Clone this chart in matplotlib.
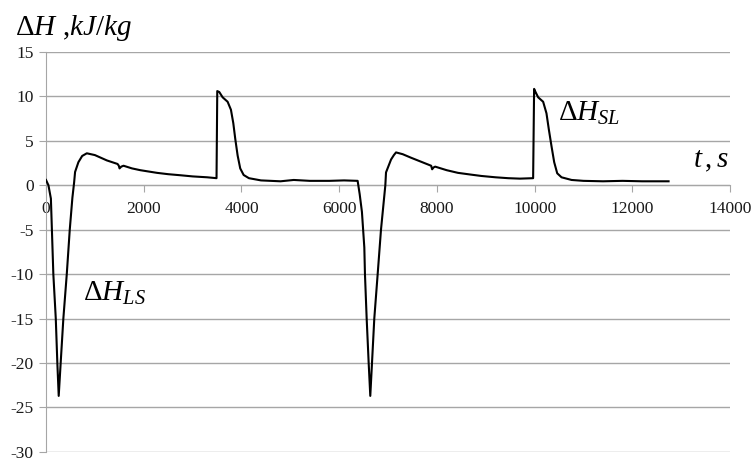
import matplotlib
matplotlib.use('Agg')
import matplotlib.pyplot as plt

plt.rcParams['font.family'] = 'serif'
plt.rcParams['font.serif'] = ['Liberation Serif', 'DejaVu Serif']
plt.rcParams['mathtext.fontset'] = 'custom'
plt.rcParams['mathtext.rm'] = 'Liberation Serif'
plt.rcParams['mathtext.it'] = 'Liberation Serif:italic'
plt.rcParams['axes.unicode_minus'] = False

# traced curve: time (s) and enthalpy change (kJ/kg)
t = [0, 50, 100, 150, 200, 232, 260, 300, 355, 425, 486, 540, 575, 595, 663, 740, 835,
     1000, 1245, 1464, 1490, 1505, 1540, 1587, 1760, 1930, 2100, 2272, 2500, 2751, 3000, 3299, 3490,
     3505, 3546, 3615, 3717, 3785, 3833, 3874, 3922, 3975, 4045, 4153, 4400, 4800, 5070, 5400,
     5800, 6100, 6378,
     6420, 6466, 6515, 6528, 6563, 6604, 6637, 6672, 6719, 6788, 6856, 6945, 6959, 7062, 7120, 7164,
     7300, 7472, 7700, 7883, 7903, 7930, 7965, 8200, 8431, 8700, 8910, 9200, 9458, 9700, 9970,
     9990, 10010, 10073, 10175, 10243, 10291, 10346, 10401, 10463, 10551, 10757, 11000, 11400,
     11800, 12200, 12742]
dh = [0.6, 0.0, -1.5, -10, -15, -20, -23.7, -20, -15, -10, -5, -1.4, 0.3, 1.5, 2.6, 3.3, 3.6,
      3.4, 2.8, 2.4, 2.2, 1.9, 2.1, 2.2, 1.9, 1.7, 1.55, 1.4, 1.25, 1.13, 1.0, 0.9, 0.8,
      10.6, 10.5, 9.9, 9.4, 8.5, 7.0, 5.2, 3.35, 1.9, 1.16, 0.8, 0.55, 0.45, 0.6, 0.5,
      0.5, 0.55, 0.5,
      -1.0, -3.0, -7, -10, -15, -20, -23.7, -20, -15, -10, -5, 0.0, 1.45, 2.9, 3.4, 3.7,
      3.5, 3.1, 2.6, 2.2, 1.8, 2.0, 2.1, 1.7, 1.4, 1.2, 1.05, 0.9, 0.8, 0.75, 0.8,
      10.85, 10.6, 9.9, 9.4, 8.1, 6.3, 4.4, 2.6, 1.35, 0.9, 0.6, 0.5, 0.45,
      0.5, 0.45, 0.45]

xticks = [0, 2000, 4000, 6000, 8000, 10000, 12000, 14000]
yticks = [15, 10, 5, 0, -5, -10, -15, -20, -25, -30]

fig = plt.figure(figsize=(7.53, 4.63), dpi=100)
ax = fig.add_axes([0.0611, 0.024, 0.9084, 0.8637])

ax.plot(t, dh, color='black', linewidth=1.5, zorder=3)

ax.set_xlim(0, 14000)
ax.set_ylim(-30, 15)
ax.set_xticks(xticks)
ax.set_yticks(yticks)
ax.yaxis.grid(True, color='#a6a6a6', linewidth=1.0)
ax.set_axisbelow(True)

for side in ['top', 'right']:
    ax.spines[side].set_visible(False)
ax.spines['bottom'].set_position(('data', 0))
ax.spines['bottom'].set_color('#a6a6a6')
ax.spines['left'].set_color('#a6a6a6')
ax.tick_params(axis='x', direction='out', length=5, color='#a6a6a6', labelsize=12.5,
               labelcolor='#1a1a1a', pad=6)
ax.tick_params(axis='y', direction='out', length=5, color='#a6a6a6', labelsize=12.5,
               labelcolor='#1a1a1a', pad=4)

fig.text(0.02, 0.94, r'$\Delta H$ ,$kJ/kg$', fontsize=21, va='center', ha='left')
ax.text(750, -12.2, r'$\Delta H_{LS}$', fontsize=21, va='center', ha='left')
ax.text(10480, 8.1, r'$\Delta H_{SL}$', fontsize=21, va='center', ha='left')
ax.text(13250, 2.7, r'$t\,,s$', fontsize=21, va='center', ha='left')

fig.savefig('out.png', dpi=100)
